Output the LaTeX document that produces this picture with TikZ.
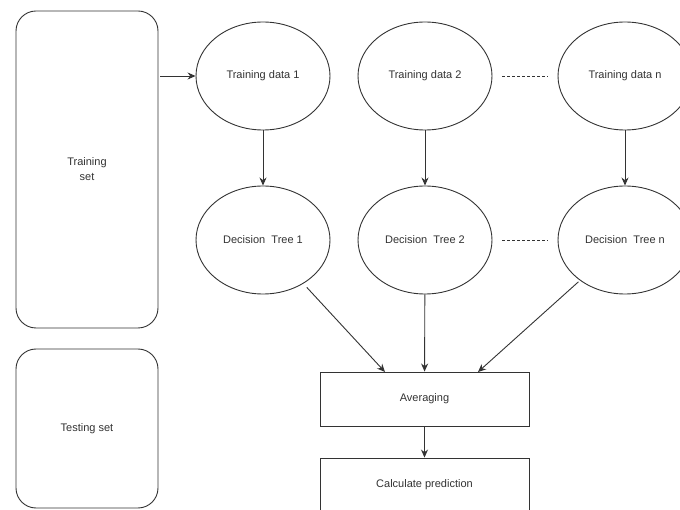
\documentclass[tikz,border=0pt]{standalone}
\usepackage{fontspec}
\setmainfont{Liberation Sans}
\usetikzlibrary{shapes.geometric,arrows.meta}
\definecolor{ink}{HTML}{333333}
\begin{document}
\begin{tikzpicture}[x=1pt,y=-1pt,
  every node/.style={font=\fontsize{11}{15}\selectfont, text=ink},
  setbox/.style={draw=ink, line width=0.9pt, rounded corners=20pt, minimum width=142pt, inner sep=0pt, align=center},
  oval/.style={ellipse, draw=ink, line width=0.9pt, minimum width=134pt, minimum height=108pt, inner sep=0pt},
  stepbox/.style={draw=ink, line width=0.9pt, minimum width=209pt, minimum height=54pt, inner sep=0pt},
  link/.style={draw=ink, line width=0.9pt, -{Stealth[length=8pt,width=7pt]}},
  gap/.style={draw=ink, line width=0.8pt, dash pattern=on 3pt off 2pt, shorten <=10pt, shorten >=10pt}]
\clip (0,0) rectangle (680,510);
\fill[white] (0,0) rectangle (680,510);

% data sets
\node[setbox, minimum height=317pt] (train) at (87,169.5) {Training\\set};
\node[setbox, minimum height=159pt] (test) at (87,428.5) {Testing set};

% bootstrap samples
\node[oval] (td1) at (263,76) {Training data 1};
\node[oval] (td2) at (425,76) {Training data 2};
\node[oval] (tdn) at (625,76) {Training data n};

% trees
\node[oval] (dt1) at (263,240) {Decision~~Tree 1};
\node[oval] (dt2) at (425,240) {Decision~~Tree 2};
\node[oval] (dtn) at (625,240) {Decision~~Tree n};

% aggregation
\node[stepbox] (avg) at (424.5,399) {Averaging};
\node[stepbox] (calc) at (424.5,485) {Calculate prediction};

\coordinate (a1) at (385,372);
\coordinate (a3) at (478,372);

% connectors
\draw[link, shorten <=2pt] (train.east |- td1) -- (td1);
\draw[link] (td1) -- (dt1);
\draw[link] (td2) -- (dt2);
\draw[link] (tdn) -- (dtn);
\draw[gap] (td2) -- (tdn);
\draw[gap] (dt2) -- (dtn);
\draw[link, shorten <=5pt] (dt1) -- (a1);
\draw[link] (dt2) -- (avg);
\draw[link, shorten <=2pt] (dtn) -- (a3);
\draw[link] (avg) -- (calc);
\end{tikzpicture}
\end{document}
